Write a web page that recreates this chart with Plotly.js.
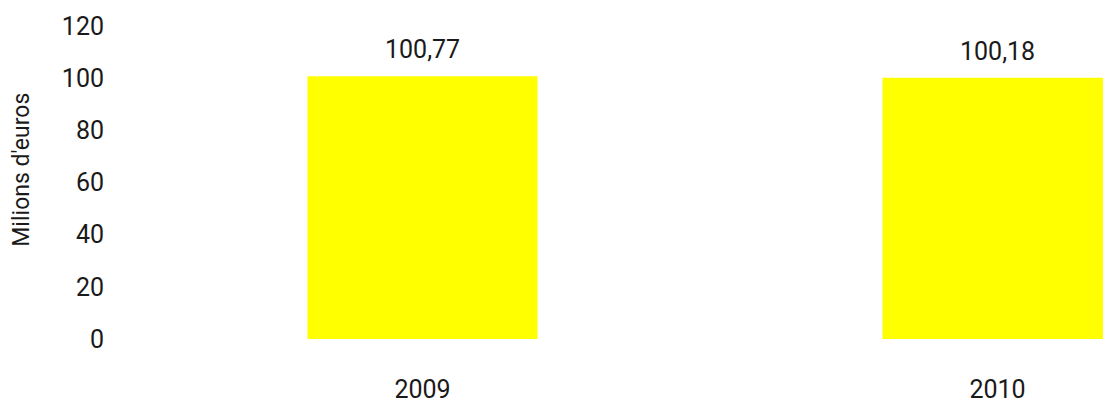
<!DOCTYPE html>
<html>
<head>
<meta charset="utf-8">
<script src="https://cdn.plot.ly/plotly-3.0.1.min.js"></script>
<style>html,body{margin:0;padding:0;background:#fff;}#chart{width:1103px;height:403px;}</style>
</head>
<body>
<div id="chart"></div>
<script>
const years = ['2009', '2010'];
const values = [100.77, 100.18];
const yTicks = [0, 20, 40, 60, 80, 100, 120];
const yTitle = "Milions d'euros";

const fmt = v => v.toFixed(2).replace('.', ',');
const FONT = 'Roboto, sans-serif';
const TXT = '#1a1a1a';

const trace = {
  type: 'bar',
  x: years,
  y: values,
  marker: {color: '#FFFF00'},
  width: 0.4,
  hoverinfo: 'x+y'
};

const annotations = years.map((yr, i) => ({
  x: i, y: values[i], xref: 'x', yref: 'y',
  text: fmt(values[i]), showarrow: false,
  xanchor: 'center', yanchor: 'bottom', yshift: 10,
  font: {family: FONT, size: 25, color: TXT}
}));
annotations.push({
  xref: 'paper', yref: 'paper', x: -0.117, y: 0.54,
  xanchor: 'center', yanchor: 'middle', textangle: -90,
  text: yTitle, showarrow: false,
  font: {family: FONT, size: 23, color: TXT}
});

const layout = {
  width: 1103, height: 403,
  margin: {l: 135, r: 0, t: 26, b: 64, pad: 0},
  paper_bgcolor: '#fff', plot_bgcolor: '#fff',
  showlegend: false,
  separators: ',.',
  font: {family: FONT, color: TXT},
  xaxis: {
    type: 'category',
    range: [-0.5, 1.1835],
    showgrid: false, zeroline: false, showline: false,
    ticks: '', ticklabelstandoff: 33,
    tickfont: {family: FONT, size: 25, color: TXT}
  },
  yaxis: {
    range: [0, 120],
    tickvals: yTicks,
    showgrid: false, zeroline: false, showline: false,
    ticks: '', ticklabelstandoff: 30,
    tickfont: {family: FONT, size: 25, color: TXT}
  },
  annotations: annotations
};

Plotly.newPlot('chart', [trace], layout, {displayModeBar: false, staticPlot: true});
</script>
</body>
</html>
